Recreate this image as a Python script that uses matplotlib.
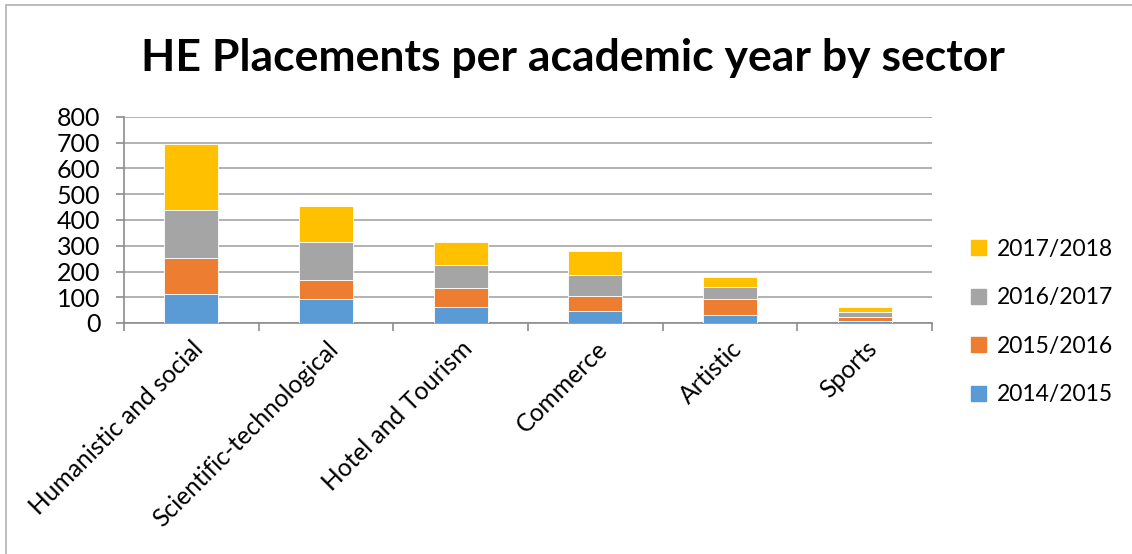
import matplotlib.pyplot as plt
from matplotlib.patches import Rectangle, Patch
import numpy as np

plt.rcParams['font.family'] = ['Lato', 'DejaVu Sans']

sectors = ['Humanistic and social', 'Scientific-technological', 'Hotel and Tourism',
           'Commerce', 'Artistic', 'Sports']
years = ['2014/2015', '2015/2016', '2016/2017', '2017/2018']
y2014 = [113, 95, 62, 48, 32, 7]
y2015 = [140, 71, 73, 55, 61, 16]
y2016 = [185, 150, 91, 83, 48, 21]
y2017 = [258, 137, 90, 92, 38, 18]
colors = ['#5B9BD5', '#ED7D31', '#A5A5A5', '#FFC000']

fig = plt.figure(figsize=(11.32, 5.54), dpi=100)
ax = fig.add_axes([124 / 1132, 1 - 323 / 554, 808 / 1132, 206 / 554])

# stacked bars
x = np.arange(len(sectors))
bottom = np.zeros(len(sectors))
for vals, c, lab in zip([y2014, y2015, y2016, y2017], colors, years):
    ax.bar(x, vals, 0.4, bottom=bottom, color=c, edgecolor='white', linewidth=0.6,
           label=lab, zorder=3)
    bottom += np.array(vals)

ax.set_xlim(-0.5, len(sectors) - 0.5)
ax.set_ylim(0, 800)
ax.set_yticks(range(0, 801, 100))
ax.yaxis.grid(True, color='#a6a6a6', linewidth=1.2, zorder=0)
ax.tick_params(axis='y', labelsize=18, length=6, color='#8c8c8c', width=1.2, pad=11)

ax.set_xticks(x)
ax.set_xticklabels(sectors, rotation=45, ha='right', va='top', rotation_mode='anchor',
                   fontsize=17.7)
ax.tick_params(axis='x', length=0, pad=10)
ax.set_xticks(np.arange(-0.5, len(sectors), 1), minor=True)
ax.tick_params(axis='x', which='minor', length=6, color='#8c8c8c', width=1.2)

for side in ['top', 'right']:
    ax.spines[side].set_visible(False)
for side in ['left', 'bottom']:
    ax.spines[side].set_color('#8c8c8c')
    ax.spines[side].set_linewidth(1.2)

fig.text(0.506, 1 - 58 / 554, 'HE Placements per academic year by sector',
         ha='center', va='center', fontsize=32, fontweight='bold')

handles = [Patch(color=c, label=l) for c, l in zip(colors, years)][::-1]
fig.legend(handles=handles, loc='center left', bbox_to_anchor=(950 / 1132, 1 - 322 / 554),
           frameon=False, fontsize=16.5, handlelength=0.65, handleheight=0.65,
           labelspacing=1.2, handletextpad=0.5)

# outer border (right and bottom edges fall outside the picture)
fig.patches.append(Rectangle((6 / 1132, -0.05), 1.1, (1 - 5 / 554) + 0.05,
                             transform=fig.transFigure, fill=False,
                             edgecolor='#b0b0b0', linewidth=1.2))

fig.savefig('out.png', dpi=100)
